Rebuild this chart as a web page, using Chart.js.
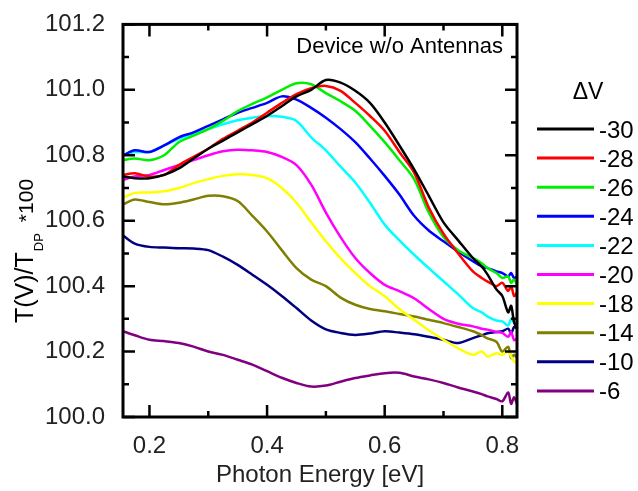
<!DOCTYPE html>
<html>
<head>
  <title>Device w/o Antennas</title>
  <script src="https://cdn.jsdelivr.net/npm/chart.js"></script>
  <style>
    body { margin: 0; background: #fff; }
  </style>
</head>
<body>
  <canvas id="grafico" width="638" height="491"></canvas>

  <script>
    // photon energy (eV) and T(V)/T_DP*100
    const energia = [0.155, 0.175, 0.2, 0.225, 0.25, 0.275, 0.3, 0.325, 0.35, 0.375, 0.4, 0.425, 0.45, 0.475,
      0.5, 0.525, 0.55, 0.575, 0.6, 0.625, 0.65, 0.675, 0.7, 0.725, 0.75, 0.765, 0.775, 0.79, 0.8, 0.81, 0.815, 0.82, 0.825];

    const v30 = [100.735, 100.73, 100.73, 100.74, 100.76, 100.79, 100.82, 100.845, 100.87, 100.895, 100.92, 100.95, 100.98, 101.0,
      101.03, 101.022, 100.997, 100.96, 100.9, 100.83, 100.757, 100.676, 100.595, 100.54, 100.486, 100.46, 100.435, 100.39, 100.37, 100.32, 100.34, 100.29, 100.27];
    const v28 = [100.74, 100.745, 100.735, 100.74, 100.77, 100.795, 100.82, 100.85, 100.875, 100.90, 100.93, 100.96, 100.987, 101.005,
      101.012, 100.997, 100.96, 100.92, 100.875, 100.81, 100.747, 100.64, 100.56, 100.50, 100.445, 100.425, 100.414, 100.40, 100.41, 100.385, 100.40, 100.37, 100.38];
    const v26 = [100.785, 100.79, 100.785, 100.80, 100.84, 100.86, 100.88, 100.905, 100.935, 100.957, 100.977, 101.0, 101.02, 101.017,
      100.99, 100.965, 100.936, 100.89, 100.84, 100.785, 100.727, 100.625, 100.55, 100.51, 100.486, 100.47, 100.455, 100.44, 100.425, 100.43, 100.41, 100.42, 100.405];
    const v24 = [100.80, 100.815, 100.81, 100.83, 100.855, 100.87, 100.89, 100.91, 100.93, 100.945, 100.96, 100.98, 100.97, 100.945,
      100.915, 100.88, 100.84, 100.79, 100.737, 100.68, 100.615, 100.57, 100.537, 100.505, 100.476, 100.46, 100.455, 100.445, 100.44, 100.43, 100.44, 100.425, 100.43];
    const v22 = [100.80, 100.81, 100.81, 100.83, 100.85, 100.865, 100.88, 100.895, 100.907, 100.915, 100.92, 100.918, 100.905, 100.855,
      100.815, 100.765, 100.717, 100.655, 100.588, 100.54, 100.496, 100.455, 100.415, 100.375, 100.333, 100.32, 100.307, 100.295, 100.292, 100.28, 100.30, 100.29, 100.30];
    const v20 = [100.725, 100.735, 100.74, 100.755, 100.77, 100.785, 100.80, 100.812, 100.817, 100.815, 100.81, 100.795, 100.77, 100.71,
      100.625, 100.55, 100.486, 100.44, 100.404, 100.385, 100.363, 100.33, 100.30, 100.285, 100.277, 100.27, 100.267, 100.26, 100.257, 100.245, 100.26, 100.235, 100.24];
    const v18 = [100.67, 100.685, 100.686, 100.69, 100.70, 100.715, 100.727, 100.737, 100.742, 100.74, 100.73, 100.70, 100.655, 100.595,
      100.537, 100.485, 100.44, 100.40, 100.369, 100.33, 100.297, 100.265, 100.236, 100.21, 100.19, 100.2, 100.185, 100.195, 100.19, 100.2, 100.185, 100.17, 100.165];
    const v14 = [100.65, 100.665, 100.657, 100.65, 100.655, 100.665, 100.676, 100.675, 100.66, 100.615, 100.567, 100.51, 100.455, 100.42,
      100.40, 100.365, 100.343, 100.33, 100.323, 100.315, 100.307, 100.297, 100.287, 100.275, 100.262, 100.25, 100.24, 100.23, 100.20, 100.215, 100.18, 100.19, 100.18];
    const v10 = [100.555, 100.53, 100.52, 100.518, 100.516, 100.515, 100.51, 100.49, 100.465, 100.435, 100.404, 100.37, 100.333, 100.295,
      100.268, 100.257, 100.251, 100.255, 100.262, 100.258, 100.253, 100.245, 100.236, 100.226, 100.241, 100.25, 100.256, 100.26, 100.262, 100.27, 100.255, 100.275, 100.272];
    const v6 = [100.262, 100.25, 100.236, 100.232, 100.226, 100.215, 100.2, 100.19, 100.175, 100.16, 100.14, 100.12, 100.104, 100.093,
      100.096, 100.108, 100.119, 100.127, 100.134, 100.135, 100.124, 100.115, 100.104, 100.09, 100.078, 100.07, 100.063, 100.055, 100.048, 100.075, 100.04, 100.06, 100.04];

    const series = [v30, v28, v26, v24, v22, v20, v18, v14, v10, v6];
    const etiquetas = ['-30', '-28', '-26', '-24', '-22', '-20', '-18', '-14', '-10', '-6'];
    const colores = ['#000000', '#ff0000', '#00ee00', '#0000ff', '#00ffff', '#ff00ff', '#ffff00', '#808000', '#000080', '#800080'];

    const xTicks = [0.2, 0.4, 0.6, 0.8];
    const xMinor = [0.3, 0.5, 0.7];
    const yTicks = [100.0, 100.2, 100.4, 100.6, 100.8, 101.0, 101.2];
    const yMinor = [100.1, 100.3, 100.5, 100.7, 100.9, 101.1];

    const fuente = 'Liberation Sans, Arial, sans-serif';

    const marco = {
      id: 'marco',
      afterDraw(chart) {
        const ctx = chart.ctx;
        const a = chart.chartArea;
        const sx = chart.scales.x, sy = chart.scales.y;
        ctx.save();
        ctx.strokeStyle = '#000';
        ctx.lineWidth = 2.5;
        ctx.beginPath();
        // inward ticks on all four sides
        xTicks.concat(xMinor).forEach(v => {
          const p = sx.getPixelForValue(v);
          const l = xTicks.includes(v) ? 12 : 6;
          ctx.moveTo(p, a.bottom); ctx.lineTo(p, a.bottom - l);
          ctx.moveTo(p, a.top); ctx.lineTo(p, a.top + l);
        });
        yTicks.concat(yMinor).forEach(v => {
          const p = sy.getPixelForValue(v);
          const l = yTicks.includes(v) ? 12 : 6;
          ctx.moveTo(a.left, p); ctx.lineTo(a.left + l, p);
          ctx.moveTo(a.right, p); ctx.lineTo(a.right - l, p);
        });
        ctx.stroke();
        ctx.lineWidth = 3;
        ctx.strokeRect(a.left, a.top, a.right - a.left, a.bottom - a.top);

        // annotation
        ctx.fillStyle = '#000';
        ctx.font = '22px ' + fuente;
        ctx.textAlign = 'right';
        ctx.textBaseline = 'alphabetic';
        ctx.fillText('Device w/o Antennas', 503, 53);

        // legend
        ctx.textAlign = 'center';
        ctx.font = '23px ' + fuente;
        ctx.fillText('\u0394V', 588, 99);
        ctx.textAlign = 'left';
        ctx.font = '24px ' + fuente;
        chart.data.datasets.forEach((d, i) => {
          const y = 129 + i * 29.1;
          ctx.strokeStyle = d.borderColor;
          ctx.lineWidth = 3;
          ctx.beginPath();
          ctx.moveTo(537, y); ctx.lineTo(594, y);
          ctx.stroke();
          ctx.fillText(d.label, 599, y + 8.5);
        });

        // y axis title with subscript
        ctx.translate(0, 323);
        ctx.rotate(-Math.PI / 2);
        ctx.font = '25px ' + fuente;
        ctx.fillText('T(V)/T', 0, 33);
        const w = ctx.measureText('T(V)/T').width;
        ctx.font = '13px ' + fuente;
        ctx.fillText('DP', w + 1, 43);
        const w2 = ctx.measureText('DP').width;
        ctx.font = '21px ' + fuente;
        ctx.fillText('*100', w + w2 + 12, 33);
        ctx.restore();
      }
    };

    const ctx = document.getElementById('grafico').getContext('2d');
    new Chart(ctx, {
      type: 'line',
      data: {
        datasets: series.map((s, i) => ({
          label: etiquetas[i],
          data: energia.map((x, j) => ({ x: x, y: s[j] })),
          borderColor: colores[i],
          backgroundColor: colores[i],
          borderWidth: 2.5,
          pointRadius: 0,
          tension: 0.3,
          fill: false
        }))
      },
      options: {
        responsive: false,
        animation: false,
        layout: { padding: { top: 24, right: 121, left: 0, bottom: 0 } },
        plugins: { legend: { display: false }, tooltip: { enabled: false } },
        scales: {
          x: {
            type: 'linear',
            min: 0.155,
            max: 0.825,
            afterBuildTicks: s => { s.ticks = xTicks.map(v => ({ value: v })); },
            afterFit: s => { s.height = 74; },
            grid: { display: false },
            border: { display: false },
            ticks: {
              color: '#222',
              font: { family: fuente, size: 24 },
              padding: 7,
              maxRotation: 0,
              callback: v => v.toFixed(1)
            },
            title: {
              display: true,
              text: 'Photon Energy [eV]',
              color: '#222',
              font: { family: fuente, size: 24 },
              padding: { top: 0, bottom: 1 }
            }
          },
          y: {
            min: 100.0,
            max: 101.2,
            afterBuildTicks: s => { s.ticks = yTicks.map(v => ({ value: v })); },
            afterFit: s => { s.width = 123; },
            grid: { display: false },
            border: { display: false },
            ticks: {
              color: '#222',
              font: { family: fuente, size: 24 },
              padding: 10,
              callback: v => v.toFixed(1)
            }
          }
        }
      },
      plugins: [marco]
    });
  </script>
</body>
</html>
